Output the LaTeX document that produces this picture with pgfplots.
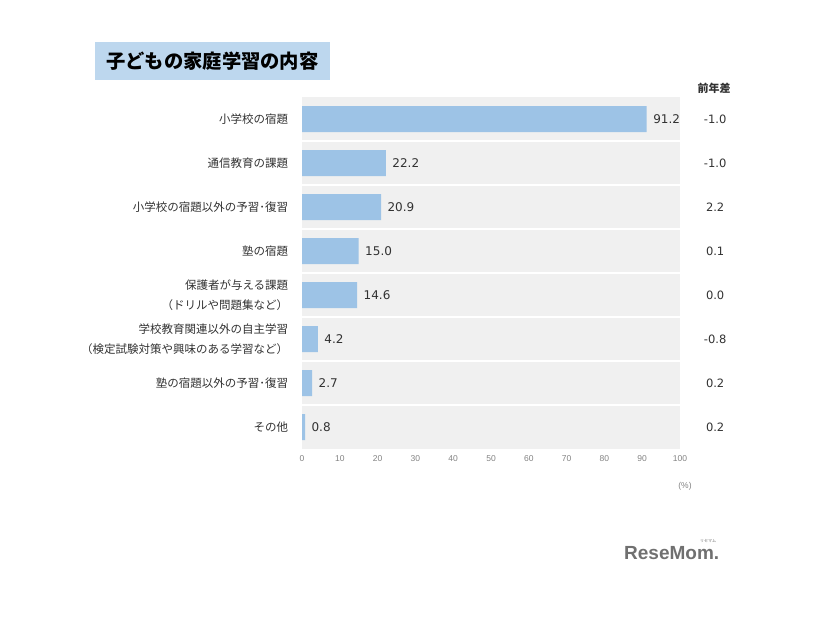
\documentclass[border=0pt]{standalone}
\usepackage{pgfplots}
\pgfplotsset{compat=1.18}
\usepackage{fontspec}
\setmainfont{Liberation Sans}
\newfontfamily\jp{Noto Sans CJK JP}
\newfontfamily\num{DejaVu Sans}
\definecolor{barblue}{RGB}{157,195,230}
\definecolor{bggray}{RGB}{240,240,240}
\definecolor{titlebox}{RGB}{189,215,238}
\definecolor{txt}{RGB}{50,50,50}
\definecolor{ticktxt}{RGB}{130,130,130}
\definecolor{logo}{RGB}{112,112,112}
\begin{document}
\begin{tikzpicture}
\useasboundingbox (0pt,0pt) rectangle (826pt,620pt);
\fill[titlebox] (95pt,540pt) rectangle (330pt,578pt);
\node[anchor=west, inner sep=0pt, font=\jp\bfseries\fontsize{19.3}{19}\selectfont] at (106pt,559pt) {子どもの家庭学習の内容};
\node[font=\jp\bfseries\fontsize{11}{11}\selectfont, text=txt] at (714pt,532pt) {前年差};
\begin{axis}[
  at={(302pt,171pt)}, anchor=south west, scale only axis,
  width=378pt, height=352pt,
  xbar, bar width=26pt,
  xmin=0, xmax=100, ymin=-0.5, ymax=7.5, y dir=reverse,
  axis background/.style={fill=bggray},
  axis line style={draw=none},
  tick style={draw=none},
  xtick={0,10,...,100},
  xticklabel style={font=\fontsize{8.5}{9}\selectfont, text=ticktxt, yshift=-3pt},
  /pgf/number format/assume math mode=true,
  ytick={0,...,7},
  yticklabels={小学校の宿題, 通信教育の課題, 小学校の宿題以外の予習･復習, 塾の宿題, {保護者が与える課題\\（ドリルや問題集など）}, {学校教育関連以外の自主学習\\（検定試験対策や興味のある学習など）}, 塾の宿題以外の予習･復習, その他},
  yticklabel style={font=\jp\fontsize{11.5}{20}\selectfont, text=txt, align=right, xshift=-6pt},
  minor ytick={0.5,1.5,...,6.5},
  yminorgrids, minor grid style={white, line width=1.5pt},
  nodes near coords,
  nodes near coords style={font=\num\fontsize{12}{12}\selectfont, text=txt, anchor=west, xshift=3pt,
    /pgf/number format/.cd, fixed, fixed zerofill, precision=1},
  clip=false,
]
\addplot[fill=barblue, draw=none] coordinates {(91.2,0) (22.2,1) (20.9,2) (15.0,3) (14.6,4) (4.2,5) (2.7,6) (0.8,7)};
\node[font=\num\fontsize{11.5}{12}\selectfont, text=txt] at (axis cs:109.3,0) {-1.0};
\node[font=\num\fontsize{11.5}{12}\selectfont, text=txt] at (axis cs:109.3,1) {-1.0};
\node[font=\num\fontsize{11.5}{12}\selectfont, text=txt] at (axis cs:109.3,2) {2.2};
\node[font=\num\fontsize{11.5}{12}\selectfont, text=txt] at (axis cs:109.3,3) {0.1};
\node[font=\num\fontsize{11.5}{12}\selectfont, text=txt] at (axis cs:109.3,4) {0.0};
\node[font=\num\fontsize{11.5}{12}\selectfont, text=txt] at (axis cs:109.3,5) {-0.8};
\node[font=\num\fontsize{11.5}{12}\selectfont, text=txt] at (axis cs:109.3,6) {0.2};
\node[font=\num\fontsize{11.5}{12}\selectfont, text=txt] at (axis cs:109.3,7) {0.2};
\end{axis}
\node[font=\fontsize{8.5}{9}\selectfont, text=ticktxt] at (685pt,134pt) {(\%)};
\node[anchor=west, inner sep=0pt, font=\bfseries\fontsize{19}{19}\selectfont, text=logo] at (624pt,67pt) {ReseMom.};
\node[inner sep=0pt, font=\jp\fontsize{4}{4}\selectfont, text=logo] at (708pt,79pt) {リセマム};
\end{tikzpicture}
\end{document}
